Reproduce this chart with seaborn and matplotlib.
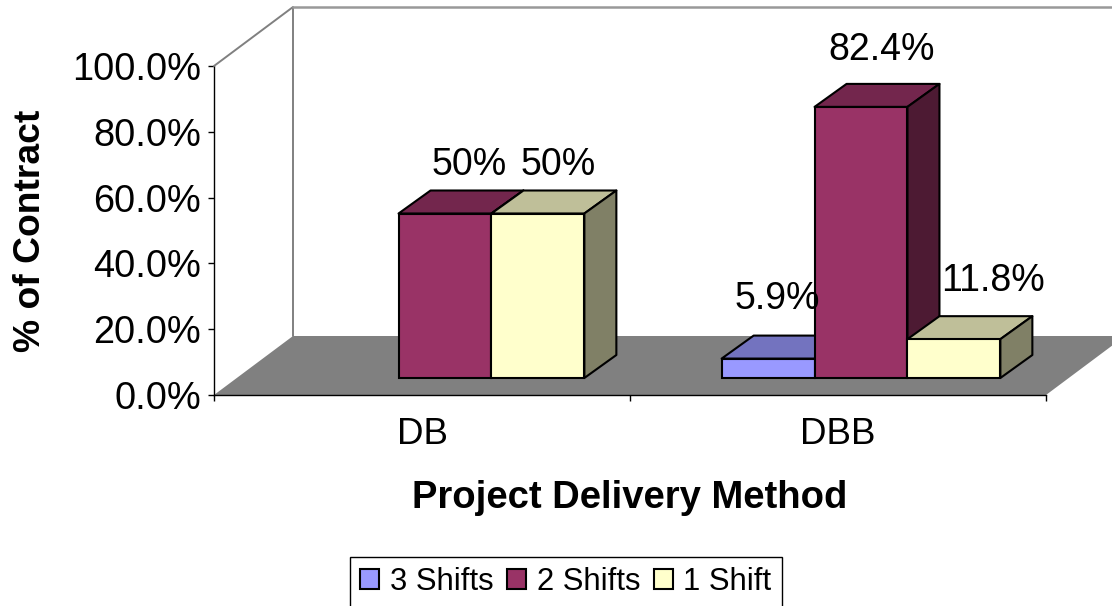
import matplotlib
matplotlib.use("Agg")
import matplotlib.pyplot as plt
import pandas as pd
import seaborn as sns
from matplotlib.colors import to_rgb
from matplotlib.patches import Polygon
from matplotlib.transforms import Affine2D, IdentityTransform

# Values (DB has no 3 Shifts bar)
methods = ["DB", "DB", "DBB", "DBB", "DBB"]
shifts = ["2 Shifts", "1 Shift", "3 Shifts", "2 Shifts", "1 Shift"]
percents = [50, 50, 5.9, 82.4, 11.8]
value_labels = ["50%", "50%", "5.9%", "82.4%", "11.8%"]

method_order = ["DB", "DBB"]
shift_order = ["3 Shifts", "2 Shifts", "1 Shift"]
shift_colors = ["#9999FF", "#993366", "#FFFFCC"]
y_ticks = [0, 20, 40, 60, 80, 100]
y_tick_labels = ["0.0%", "20.0%", "40.0%", "60.0%", "80.0%", "100.0%"]

sns.set_style("white")
plt.rcParams["font.family"] = ["Liberation Sans", "DejaVu Sans"]
plt.rcParams["text.color"] = "black"
plt.rcParams["axes.labelcolor"] = "black"
plt.rcParams["xtick.labelcolor"] = "black"
plt.rcParams["ytick.labelcolor"] = "black"

W, H = 1112, 606
fig = plt.figure(figsize=(W / 100, H / 100), dpi=100)
ax = fig.add_axes([214 / W, (H - 395) / H, 832 / W, 329 / H])

df = pd.DataFrame({"method": methods, "shift": shifts, "percent": percents})
sns.barplot(data=df, x="method", y="percent", hue="shift", order=method_order,
            hue_order=shift_order, palette=shift_colors, width=0.67, saturation=1,
            edgecolor="black", linewidth=1.5, errorbar=None, ax=ax)
ax.set_xlim(-0.5, 1.5)
ax.set_ylim(0, 100)

# 3D look, sizes in pixels
room_dx, room_dy = 79, 59
bar_dx, bar_dy = 32, 23
shift_x, shift_y = 23, 17  # bars sit part way into the floor


def shade(color, k):
    return tuple(c * k for c in to_rgb(color))


def add_poly(points, z, **kw):
    ax.add_patch(Polygon(points, closed=True, transform=IdentityTransform(),
                         clip_on=False, zorder=z, **kw))


# room: floor and the two wall edges
fig.canvas.draw()
x0, y0 = ax.transAxes.transform((0, 0))
x1, y1 = ax.transAxes.transform((1, 1))
add_poly([(x0, y0), (x1, y0), (x1 + room_dx, y0 + room_dy), (x0 + room_dx, y0 + room_dy)],
         0.5, facecolor="#808080", edgecolor="none")
wall_x = [x0, x0 + room_dx, x0 + room_dx]
wall_y = [y1, y1 + room_dy, y0 + room_dy]
fig.add_artist(plt.Line2D(wall_x, wall_y, color="#808080", lw=1.4, transform=IdentityTransform(), zorder=0.4))
fig.add_artist(plt.Line2D([x0 + room_dx, x1 + room_dx], [y1 + room_dy, y1 + room_dy], color="#999999",
                          lw=1.8, transform=IdentityTransform(), zorder=0.4))
ax.patch.set_visible(False)

# collect bars from seaborn and draw them left to right with top and side faces
bars = []
for container, color in zip(ax.containers, shift_colors):
    for bar in container:
        if bar.get_height() > 0:
            bars.append((bar, color))
bars.sort(key=lambda item: item[0].get_x())

shift_tr = Affine2D().translate(shift_x, shift_y)
edge = dict(edgecolor="black", linewidth=1.5, joinstyle="round")
z = 3
for bar, color in bars:
    (bx0, by0) = ax.transData.transform((bar.get_x(), 0)) + (shift_x, shift_y)
    (bx1, by1) = ax.transData.transform((bar.get_x() + bar.get_width(), bar.get_height())) + (shift_x, shift_y)
    add_poly([(bx0, by1), (bx1, by1), (bx1 + bar_dx, by1 + bar_dy), (bx0 + bar_dx, by1 + bar_dy)],
             z, facecolor=shade(color, 0.75), **edge)
    add_poly([(bx1, by0), (bx1 + bar_dx, by0 + bar_dy), (bx1 + bar_dx, by1 + bar_dy), (bx1, by1)],
             z, facecolor=shade(color, 0.5), **edge)
    bar.set_transform(ax.transData + shift_tr)
    bar.set_clip_on(False)
    bar.set_zorder(z + 0.1)
    z += 1

# data labels, placed by hand like in the original
label_nudge = [(24, 49), (20, 49), (9, 60), (21, 57), (39, 58)]
for (bar, color), text, (nx, ny) in zip(bars, value_labels, label_nudge):
    cx, cy = ax.transData.transform((bar.get_x() + bar.get_width() / 2, bar.get_height()))
    ax.text(cx + shift_x + nx, cy + shift_y + ny, text, transform=IdentityTransform(),
            ha="center", va="center", fontsize=27, color="black", zorder=20, clip_on=False)

# axes
sns.despine(ax=ax)
for side in ["left", "bottom"]:
    ax.spines[side].set_color("black")
    ax.spines[side].set_linewidth(1.0)
    ax.spines[side].set_zorder(2)
ax.set_yticks(y_ticks, labels=y_tick_labels)
ax.set_xticks([-0.5, 0.5, 1.5], labels=[])
ax.set_xticks([0, 1], labels=method_order, minor=True)
ax.tick_params(axis="y", which="major", left=True, length=4.3, width=1.0, color="black", pad=5, labelsize=27.4)
ax.tick_params(axis="x", which="major", bottom=True, length=4.3, width=1.0, color="black")
ax.tick_params(axis="x", which="minor", bottom=False, length=0, pad=15.5, labelsize=26.5)
ax.set_xlabel("Project Delivery Method", fontsize=27.5, fontweight="bold", va="center")
ax.set_ylabel("% of Contract", fontsize=26.8, fontweight="bold", va="center", ha="center")
ax.xaxis.set_label_coords(0.5, (395 - 498) / 329)
ax.yaxis.set_label_coords((31 - 214) / 832, (395 - 231) / 329)

# legend, runs off the bottom of the picture like the original
sns.move_legend(ax, "upper left", bbox_to_anchor=(350 / W, (H - 557) / H), bbox_transform=fig.transFigure,
                ncol=3, title=None, frameon=True, fancybox=False, edgecolor="black", framealpha=1,
                fontsize=22.3, handlelength=0.62, handleheight=0.62, handletextpad=0.33,
                columnspacing=0.45, borderpad=0.33, borderaxespad=0, labelcolor="black")
leg = ax.get_legend()
leg.get_frame().set_linewidth(1.0)
leg.set_zorder(30)

fig.savefig("out.png", dpi=100)
